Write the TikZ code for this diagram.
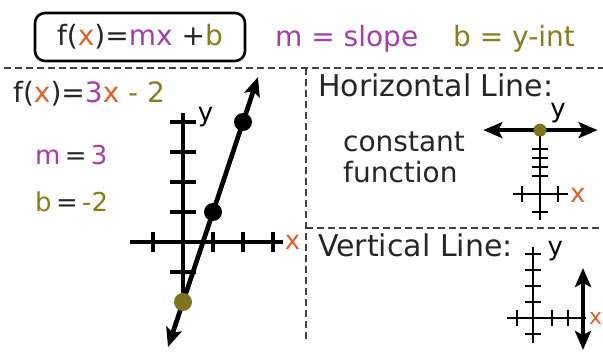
\documentclass[tikz,border=0pt]{standalone}
\usepackage{fontspec}
\setmainfont{DejaVu Sans}
\usetikzlibrary{arrows.meta,positioning}
\definecolor{xred}{HTML}{D9622B}
\definecolor{mpurp}{HTML}{A33FA8}
\definecolor{bolive}{HTML}{8C7A1E}
\definecolor{dotolive}{HTML}{7D7420}
\tikzset{
	axisline/.style = {line width = 3.2pt},
	smallaxis/.style = {line width = 2.5pt},
	fline/.style = {line width = 4.6pt, {Stealth[length=19pt,width=16pt,inset=4pt]}-{Stealth[length=19pt,width=16pt,inset=4pt]}},
	ptdot/.style = {circle, fill = black, inner sep = 0pt, minimum size = 18pt},
	ydot/.style = {ptdot, fill = dotolive},
	sepline/.style = {dash pattern = on 7pt off 4pt, line width = 1.4pt, black!75},
	txt/.style = {font = \fontsize{28}{31}\selectfont, inner sep = 0pt, anchor = base west, text = black!85},
	bigtxt/.style = {txt, font = \fontsize{30}{33}\selectfont},
	axlbl/.style = {font = \fontsize{26}{28}\selectfont, inner sep = 0pt},
}
\begin{document}
\begin{tikzpicture}[x = 1pt, y = -1pt]
		\useasboundingbox[fill = white] (0,0) rectangle (603,352);
		% header
		\node [draw, line width = 2.6pt, rounded corners = 10pt, minimum width = 210pt, minimum height = 48pt, txt, anchor = center] (fbox) at (140,37)
			{f(\textcolor{xred}{x})=\textcolor{mpurp}{mx} +\textcolor{bolive}{b}};
		\node [txt, text = mpurp] (slope) at (275,47) {m = slope};
		\node [txt, text = bolive] (yint) at (453,47) {b = y-int};
		\draw [sepline] (4,68) -- (603,68);
		\draw [sepline] (306,68) -- (306,340);
		\draw [sepline] (306,228) -- (603,228);
		% left panel
		\node [txt] (feq) at (13,103) {f(\textcolor{xred}{x})=\textcolor{mpurp}{3}\textcolor{xred}{x} \textcolor{bolive}{- 2}};
		\node [txt, font = \fontsize{26}{28}\selectfont] (meq) at (35,165) {\textcolor{mpurp}{m}\,=\,\textcolor{mpurp}{3}};
		\node [txt, font = \fontsize{26}{28}\selectfont] (beq) at (35,212) {\textcolor{bolive}{b}\,=\,\textcolor{bolive}{-2}};
		\begin{scope}[shift = {(183,242)}, x = 30pt, y = 30pt]
			\draw [axisline] (-1.77,0) -- (3.33,0);
			\draw [axisline] (0,-2) -- (0,4.3);
			\foreach \t in {-1,1,2,3,4} \draw [axisline] (-0.43,\t) -- (0.43,\t);
			\foreach \t in {-1,1,2,3} \draw [axisline] (\t,-0.33) -- (\t,0.33);
			\node [axlbl] (ylbl) at (0.75,4.15) {y};
			\node [axlbl, text = xred] (xlbl) at (3.65,0) {x};
			\coordinate (lbot) at (-0.5,-3.5);
			\coordinate (ltop) at (2.5,5.5);
			\draw [fline] (lbot) -- (ltop);
			\node [ptdot] (p1) at (1,1) {};
			\node [ptdot] (p2) at (2,4) {};
			\node [ydot] (p0) at (0,-2) {};
		\end{scope}
		% horizontal line
		\node [bigtxt] (hlbl) at (318,97) {Horizontal Line:};
		\node [txt] (const) at (343,152) {constant};
		\node [txt] (func) at (343,183) {function};
		\begin{scope}[shift = {(540,194)}, x = 9pt, y = 9pt]
			\draw [smallaxis] (-3,0) -- (3.1,0);
			\draw [smallaxis] (0,-2.9) -- (0,7.1);
			\foreach \t in {-2,2,3,4,5} \draw [smallaxis] (-0.9,\t) -- (0.9,\t);
			\foreach \t in {-2,2} \draw [smallaxis] (\t,-0.9) -- (\t,0.9);
			\node [axlbl] (hy) at (2,9) {y};
			\node [axlbl, text = xred] (hx) at (4.2,-0.1) {x};
			\coordinate (hl) at (-6.3,7.1);
			\coordinate (hr) at (6.4,7.1);
			\draw [fline, line width = 4pt] (hl) -- (hr);
			\node [ydot, minimum size = 13pt] (hdot) at (0,7.1) {};
		\end{scope}
		% vertical line
		\node [bigtxt] (vlbl) at (318,257) {Vertical Line:};
		\begin{scope}[shift = {(533,318)}, x = 8pt, y = 8pt]
			\draw [smallaxis] (-3.25,0) -- (6.6,0);
			\draw [smallaxis] (0,-3.1) -- (0,8.9);
			\foreach \t in {-2,2,4,6,8} \draw [smallaxis] (-1,\t) -- (1,\t);
			\foreach \t in {-2,2.4,4.4} \draw [smallaxis] (\t,-1) -- (\t,1);
			\node [axlbl] (vy) at (2.8,8.4) {y};
			\node [axlbl, text = xred, anchor = west, font = \fontsize{22}{24}\selectfont] (vx) at (7,-0.1) {x};
			\coordinate (vb) at (6.25,-4);
			\coordinate (vt) at (6.25,6.25);
			\draw [fline, line width = 4pt] (vb) -- (vt);
		\end{scope}
	\end{tikzpicture}
\end{document}
